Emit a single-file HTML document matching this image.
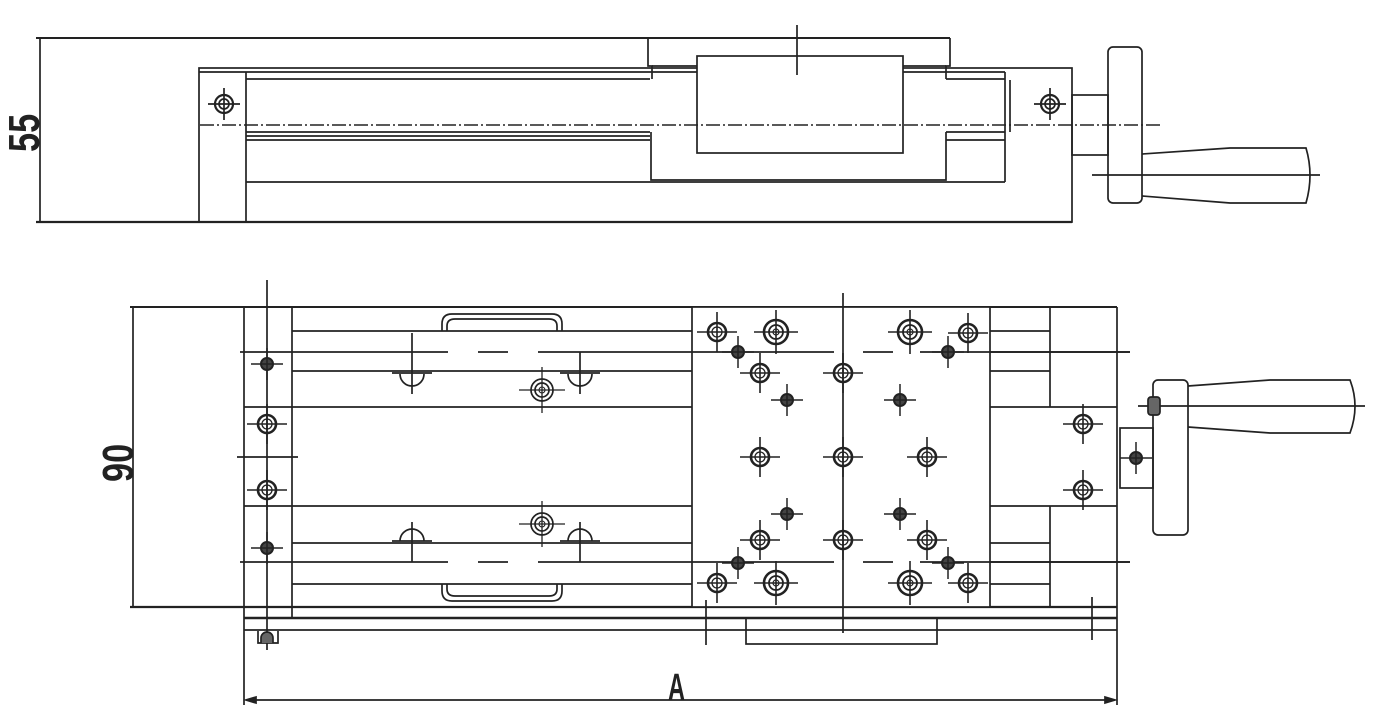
<!DOCTYPE html>
<html><head><meta charset="utf-8"><style>
html,body{margin:0;padding:0;background:#fff;}
svg{display:block;}
text{font-family:"Liberation Sans",sans-serif;fill:#222;}
</style></head><body>
<svg width="1385" height="718" viewBox="0 0 1385 718" xmlns="http://www.w3.org/2000/svg">
<defs>
<g id="hm"><circle r="9" fill="none" stroke="#222" stroke-width="2.6"/><circle r="5" fill="none" stroke="#222" stroke-width="1.3"/><line x1="-20" y1="0" x2="20" y2="0" stroke="#222" stroke-width="1.6"/><line x1="0" y1="-20" x2="0" y2="20" stroke="#222" stroke-width="1.6"/></g>
<g id="hl"><circle r="12" fill="none" stroke="#222" stroke-width="2.6"/><circle r="7" fill="none" stroke="#222" stroke-width="1.8"/><circle r="3" fill="none" stroke="#222" stroke-width="1.2"/><line x1="-22" y1="0" x2="22" y2="0" stroke="#222" stroke-width="1.6"/><line x1="0" y1="-22" x2="0" y2="22" stroke="#222" stroke-width="1.6"/></g>
<g id="hs"><circle r="6" fill="#444" stroke="#222" stroke-width="2"/><line x1="-16" y1="0" x2="16" y2="0" stroke="#222" stroke-width="1.5"/><line x1="0" y1="-16" x2="0" y2="16" stroke="#222" stroke-width="1.5"/></g>
<g id="hd"><circle r="11" fill="none" stroke="#222" stroke-width="1.7"/><circle r="7" fill="none" stroke="#222" stroke-width="1.7"/><circle r="3" fill="none" stroke="#222" stroke-width="1.1"/><line x1="-23" y1="0" x2="23" y2="0" stroke="#222" stroke-width="1.3"/><line x1="0" y1="-23" x2="0" y2="23" stroke="#222" stroke-width="1.3"/></g>
</defs>
<g fill="none" stroke="#222" stroke-width="1.7">
<!-- TOP VIEW -->
<line x1="36" y1="38" x2="950" y2="38" stroke-width="2"/>
<line x1="36" y1="222" x2="1072" y2="222" stroke-width="2.2"/>
<line x1="40" y1="38" x2="40" y2="222"/>
<rect x="199" y="68" width="873" height="154"/>
<line x1="199" y1="72" x2="1005" y2="72"/>
<line x1="246" y1="72" x2="246" y2="222"/>
<line x1="246" y1="79" x2="650" y2="79"/>
<line x1="946" y1="79" x2="1005" y2="79"/>
<line x1="246" y1="132" x2="650" y2="132"/>
<line x1="246" y1="136" x2="650" y2="136"/>
<line x1="246" y1="140" x2="650" y2="140"/>
<line x1="946" y1="132" x2="1005" y2="132"/>
<line x1="946" y1="140" x2="1005" y2="140"/>
<line x1="246" y1="182" x2="1005" y2="182"/>
<line x1="1005" y1="72" x2="1005" y2="182"/>
<line x1="1010" y1="80" x2="1010" y2="132"/>
<polyline points="648,38 648,66 652,66 652,79"/>
<polyline points="950,38 950,66 946,66 946,79"/>
<line x1="652" y1="66" x2="946" y2="66"/>
<rect x="697" y="56" width="206" height="97" fill="#fff"/>
<polyline points="651,132 651,180 946,180 946,132"/>
<line x1="797" y1="25" x2="797" y2="75"/>
<line x1="200" y1="125" x2="1160" y2="125" stroke-dasharray="14,3,2,3" stroke-width="1.4"/>
<g transform="translate(224,104)"><circle r="9" fill="none" stroke-width="2.2"/><circle r="5" fill="none"/><line x1="-16" y1="0" x2="16" y2="0"/><line x1="0" y1="-16" x2="0" y2="16"/></g>
<g transform="translate(1050,104)"><circle r="9" fill="none" stroke-width="2.2"/><circle r="5" fill="none"/><line x1="-16" y1="0" x2="16" y2="0"/><line x1="0" y1="-16" x2="0" y2="16"/></g>
<rect x="1072" y="95" width="36" height="60"/>
<rect x="1108" y="47" width="34" height="156" rx="5"/>
<path d="M1142,154 L1230,148 L1306,148 Q1314,175 1306,203 L1230,203 L1142,196"/>
<line x1="1092" y1="175" x2="1320" y2="175"/>

<!-- BOTTOM VIEW -->
<line x1="130" y1="307" x2="1117" y2="307" stroke-width="2"/>
<line x1="130" y1="607" x2="1117" y2="607" stroke-width="2.2"/>
<line x1="133" y1="307" x2="133" y2="607"/>
<line x1="244" y1="307" x2="244" y2="705"/>
<line x1="1117" y1="307" x2="1117" y2="705"/>
<line x1="292" y1="307" x2="292" y2="617"/>
<line x1="267" y1="280" x2="267" y2="650"/>
<line x1="292" y1="331" x2="692" y2="331"/>
<line x1="292" y1="371" x2="692" y2="371"/>
<line x1="244" y1="407" x2="692" y2="407"/>
<line x1="244" y1="506" x2="692" y2="506"/>
<line x1="292" y1="543" x2="692" y2="543"/>
<line x1="292" y1="584" x2="692" y2="584"/>
<line x1="237" y1="457" x2="298" y2="457"/>
<line x1="240" y1="352" x2="448" y2="352"/><line x1="478" y1="352" x2="508" y2="352"/><line x1="538" y1="352" x2="1130" y2="352"/>
<line x1="240" y1="562" x2="448" y2="562"/><line x1="478" y1="562" x2="508" y2="562"/><line x1="538" y1="562" x2="1130" y2="562"/>
<rect x="692" y="307" width="298" height="300" fill="#fff"/>
<line x1="692" y1="352" x2="834" y2="352"/><line x1="863" y1="352" x2="893" y2="352"/><line x1="920" y1="352" x2="1130" y2="352"/>
<line x1="692" y1="562" x2="834" y2="562"/><line x1="863" y1="562" x2="893" y2="562"/><line x1="920" y1="562" x2="1130" y2="562"/>
<line x1="843" y1="293" x2="843" y2="633"/>
<line x1="990" y1="331" x2="1050" y2="331"/>
<line x1="990" y1="371" x2="1050" y2="371"/>
<line x1="990" y1="407" x2="1117" y2="407"/>
<line x1="990" y1="506" x2="1117" y2="506"/>
<line x1="990" y1="543" x2="1050" y2="543"/>
<line x1="990" y1="584" x2="1050" y2="584"/>
<line x1="1050" y1="307" x2="1050" y2="407"/>
<line x1="1050" y1="506" x2="1050" y2="607"/>
<line x1="244" y1="618" x2="1117" y2="618" stroke-width="2.4"/>
<line x1="244" y1="630" x2="1117" y2="630"/>
<line x1="706" y1="600" x2="706" y2="645"/>
<line x1="1092" y1="597" x2="1092" y2="640"/>
<rect x="746" y="618" width="191" height="26"/>
<path d="M258,631 L258,643 L278,643 L278,631"/>
<path d="M261,643 L261,638 A6,6 0 0 1 273,638 L273,643" fill="#666"/>
<path d="M442,331 L442,324 Q442,314 452,314 L552,314 Q562,314 562,324 L562,331"/>
<path d="M447,331 L447,326 Q447,319 455,319 L549,319 Q557,319 557,326 L557,331"/>
<path d="M442,584 L442,591 Q442,601 452,601 L552,601 Q562,601 562,591 L562,584"/>
<path d="M447,584 L447,589 Q447,596 455,596 L549,596 Q557,596 557,589 L557,584"/>
<path d="M400,374 A12,12 0 0 0 424,374"/><line x1="392" y1="373" x2="432" y2="373"/><line x1="412" y1="333" x2="412" y2="394"/>
<path d="M568,374 A12,12 0 0 0 592,374"/><line x1="560" y1="373" x2="600" y2="373"/><line x1="580" y1="352" x2="580" y2="394"/>
<path d="M400,541 A12,12 0 0 1 424,541"/><line x1="392" y1="541" x2="432" y2="541"/><line x1="412" y1="522" x2="412" y2="562"/>
<path d="M568,541 A12,12 0 0 1 592,541"/><line x1="560" y1="541" x2="600" y2="541"/><line x1="580" y1="522" x2="580" y2="562"/>
<rect x="1120" y="428" width="33" height="60"/>
<rect x="1153" y="380" width="35" height="155" rx="5"/>
<path d="M1188,386 L1270,380 L1350,380 Q1360,406 1350,433 L1270,433 L1188,427"/>
<line x1="1138" y1="406" x2="1365" y2="406"/>
<rect x="1148" y="397" width="12" height="18" rx="3" fill="#666"/>
<line x1="246" y1="700" x2="1115" y2="700"/>
<path d="M246,700 l10,-3 l0,6 z M1115,700 l-10,-3 l0,6 z" fill="#222"/>
</g>
<use href="#hd" x="542" y="390"/><use href="#hd" x="542" y="524"/>
<use href="#hs" x="267" y="364"/><use href="#hs" x="267" y="548"/>
<use href="#hm" x="267" y="424"/><use href="#hm" x="267" y="490"/>
<use href="#hl" x="776" y="332"/><use href="#hl" x="910" y="332"/><use href="#hl" x="776" y="583"/><use href="#hl" x="910" y="583"/>
<use href="#hm" x="717" y="332"/><use href="#hm" x="968" y="333"/><use href="#hm" x="717" y="583"/><use href="#hm" x="968" y="583"/>
<use href="#hs" x="738" y="352"/><use href="#hs" x="948" y="352"/><use href="#hs" x="738" y="563"/><use href="#hs" x="948" y="563"/>
<use href="#hm" x="760" y="373"/><use href="#hm" x="843" y="373"/><use href="#hm" x="760" y="457"/><use href="#hm" x="843" y="457"/><use href="#hm" x="927" y="457"/><use href="#hm" x="760" y="540"/><use href="#hm" x="843" y="540"/><use href="#hm" x="927" y="540"/>
<use href="#hs" x="787" y="400"/><use href="#hs" x="900" y="400"/><use href="#hs" x="787" y="514"/><use href="#hs" x="900" y="514"/>
<use href="#hm" x="1083" y="424"/><use href="#hm" x="1083" y="490"/>
<use href="#hs" x="1136" y="458"/>
<text x="0" y="0" font-size="44" font-weight="bold" transform="translate(39,152) rotate(-90) scale(0.78,1)">55</text>
<text x="0" y="0" font-size="44" font-weight="bold" transform="translate(133,482) rotate(-90) scale(0.78,1)">90</text>
<text x="0" y="0" font-size="38" font-weight="bold" transform="translate(668,700) scale(0.62,1)">A</text>
</svg>
</body></html>
